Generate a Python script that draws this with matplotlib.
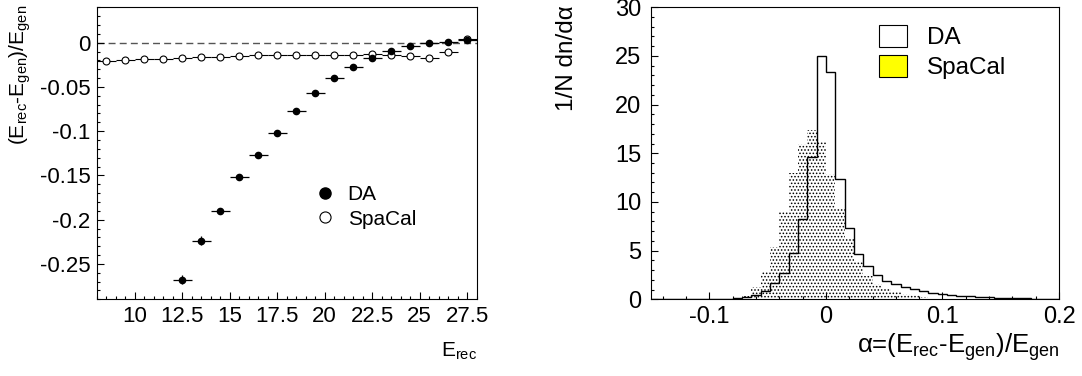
import matplotlib
matplotlib.use('Agg')
import matplotlib.pyplot as plt
import numpy as np
from matplotlib.lines import Line2D
from matplotlib.patches import Patch
from matplotlib.ticker import MultipleLocator, FixedLocator, FuncFormatter

plt.rcParams['font.family'] = 'Liberation Sans'
plt.rcParams['mathtext.fontset'] = 'custom'
plt.rcParams['mathtext.rm'] = 'Liberation Sans'
plt.rcParams['mathtext.it'] = 'Liberation Sans:italic'
plt.rcParams['axes.unicode_minus'] = False
plt.rcParams['hatch.linewidth'] = 0.7

# relative energy bias vs reconstructed energy
e_spacal = [8.5, 9.5, 10.5, 11.5, 12.5, 13.5, 14.5, 15.5, 16.5, 17.5,
            18.5, 19.5, 20.5, 21.5, 22.5, 23.5, 24.5, 25.5, 26.5, 27.5]
bias_spacal = [-0.021, -0.020, -0.0188, -0.018, -0.017, -0.0162, -0.0158, -0.0154, -0.0143, -0.0143,
               -0.0143, -0.0143, -0.0135, -0.0135, -0.013, -0.014, -0.0147, -0.017, -0.011, 0.004]
e_da = [12.5, 13.5, 14.5, 15.5, 16.5, 17.5, 18.5, 19.5,
        20.5, 21.5, 22.5, 23.5, 24.5, 25.5, 26.5, 27.5]
bias_da = [-0.2677, -0.2237, -0.1898, -0.1519, -0.1274, -0.1026, -0.0771, -0.0568,
           -0.0398, -0.0278, -0.0173, -0.0094, -0.0034, 0.0, 0.0004, 0.003]
err_da = [0.0055, 0.005, 0.003, 0.002, 0.002, 0.002, 0.0015, 0.0015,
          0.0015, 0.0015, 0.0015, 0.0015, 0.0015, 0.0015, 0.0015, 0.0015]

# normalised alpha distributions, 0.008 wide bins
alpha_edges = np.linspace(-0.152, 0.2, 45)
dn_da = [0, 0, 0, 0, 0, 0.01, 0.02, 0.02, 0.04, 0.1,
         0.27, 0.44, 0.88, 1.64, 2.7, 4.74, 8.2, 14.65, 25.0, 23.4,
         12.4, 7.3, 4.7, 3.37, 2.5, 1.9, 1.57, 1.23, 1.03, 0.82,
         0.68, 0.58, 0.47, 0.37, 0.34, 0.27, 0.24, 0.17, 0.14, 0.14,
         0.1, 0.07, 0.07, 0.05]
dn_spacal = [0, 0, 0, 0, 0, 0, 0, 0.02, 0.05, 0.1,
             0.34, 1.23, 2.9, 5.4, 9.0, 13.0, 16.0, 17.4, 16.2, 12.9,
             9.3, 6.2, 3.9, 2.4, 1.6, 1.1, 0.8, 0.55, 0.4, 0.25,
             0.18, 0.13, 0.1, 0.08, 0.06, 0.05, 0.04, 0.03, 0.03, 0.02,
             0.02, 0.02, 0.01, 0.01]

tick_fmt = FuncFormatter(lambda v, pos: '%g' % round(v, 6))


def style_axes(ax, fs, ypad, xpad):
    ax.tick_params(which='both', direction='in', top=False, right=False,
                   labelsize=fs, width=0.8)
    ax.tick_params(axis='y', which='major', length=5, pad=ypad)
    ax.tick_params(axis='x', which='major', length=5, pad=xpad)
    ax.tick_params(which='minor', length=2.5)
    ax.xaxis.set_major_formatter(tick_fmt)
    ax.yaxis.set_major_formatter(tick_fmt)
    for sp in ax.spines.values():
        sp.set_linewidth(0.8)


fig = plt.figure(figsize=(10.82, 3.76), dpi=100)
ax1 = fig.add_axes([0.0894, 0.2040, 0.3512, 0.7766])
ax2 = fig.add_axes([0.6017, 0.2040, 0.3771, 0.7766])

# --- left: bias vs E_rec
ax1.axhline(0, color='#555555', ls=(0, (5, 3)), lw=1, zorder=1)
ax1.errorbar(e_spacal, bias_spacal, xerr=0.5, fmt='o', ms=5, mfc='white', mec='black',
             mew=0.8, ecolor='black', elinewidth=0.8, capsize=0, zorder=2)
ax1.errorbar(e_da, bias_da, xerr=0.5, yerr=err_da, fmt='o', ms=4.5, color='black',
             elinewidth=0.9, capsize=0, zorder=3)
ax1.set_xlim(8, 28)
ax1.set_ylim(-0.29, 0.04)
ax1.xaxis.set_major_locator(FixedLocator([10, 12.5, 15, 17.5, 20, 22.5, 25, 27.5]))
ax1.xaxis.set_minor_locator(MultipleLocator(0.5))
ax1.yaxis.set_major_locator(FixedLocator([0, -0.05, -0.1, -0.15, -0.2, -0.25]))
ax1.yaxis.set_minor_locator(MultipleLocator(0.01))
style_axes(ax1, 16, 4.5, 4.5)

h1 = [Line2D([], [], marker='o', ls='none', color='black', ms=8),
      Line2D([], [], marker='o', ls='none', mfc='white', mec='black', mew=0.8, ms=8)]
ax1.legend(h1, ['DA', 'SpaCal'], loc='center left', bbox_to_anchor=(0.578, 0.316),
           frameon=False, fontsize=15, handlelength=0.85, handletextpad=0.65,
           labelspacing=0.25, borderpad=0, borderaxespad=0)

# --- right: alpha distributions
ax2.stairs(dn_spacal, alpha_edges, fill=True, facecolor='white', edgecolor='black',
           lw=0, hatch='.....', zorder=1)
ax2.stairs(dn_da, alpha_edges, color='black', lw=1, zorder=2)
ax2.set_xlim(-0.15, 0.2)
ax2.set_ylim(0, 30)
ax2.xaxis.set_major_locator(FixedLocator([-0.1, 0, 0.1, 0.2]))
ax2.xaxis.set_minor_locator(MultipleLocator(0.02))
ax2.yaxis.set_major_locator(MultipleLocator(5))
ax2.yaxis.set_minor_locator(MultipleLocator(1))
style_axes(ax2, 17, 7, 4.5)

h2 = [Patch(facecolor='white', edgecolor='black', lw=0.8),
      Patch(facecolor='yellow', edgecolor='black', lw=0.8)]
ax2.legend(h2, ['DA', 'SpaCal'], loc='upper left', bbox_to_anchor=(0.558, 0.94),
           frameon=False, fontsize=17.5, handlelength=1.17, handleheight=1.0,
           handletextpad=0.8, labelspacing=0.25, borderpad=0, borderaxespad=0)

# axis titles, ROOT-style placement
fig.text(20 / 1082, 1 - 5 / 376,
         r'($\mathrm{E}_{\rm rec}$-$\mathrm{E}_{\rm gen}$)/$\mathrm{E}_{\rm gen}$',
         rotation=90, ha='center', va='top', fontsize=15)
fig.text(476.7 / 1082, 1 - 357 / 376, r'$\mathrm{E}_{\rm rec}$',
         ha='right', va='baseline', fontsize=15)
fig.text(567 / 1082, 1 - 5 / 376, '1/N dn/d\u03b1',
         rotation=90, ha='center', va='top', fontsize=17.5)
fig.text(1060 / 1082, 1 - 353 / 376,
         '\u03b1=(' + r'$\mathrm{E}_{\rm rec}$-$\mathrm{E}_{\rm gen}$)/$\mathrm{E}_{\rm gen}$',
         ha='right', va='baseline', fontsize=18.5)

fig.savefig('out.png', dpi=100)
